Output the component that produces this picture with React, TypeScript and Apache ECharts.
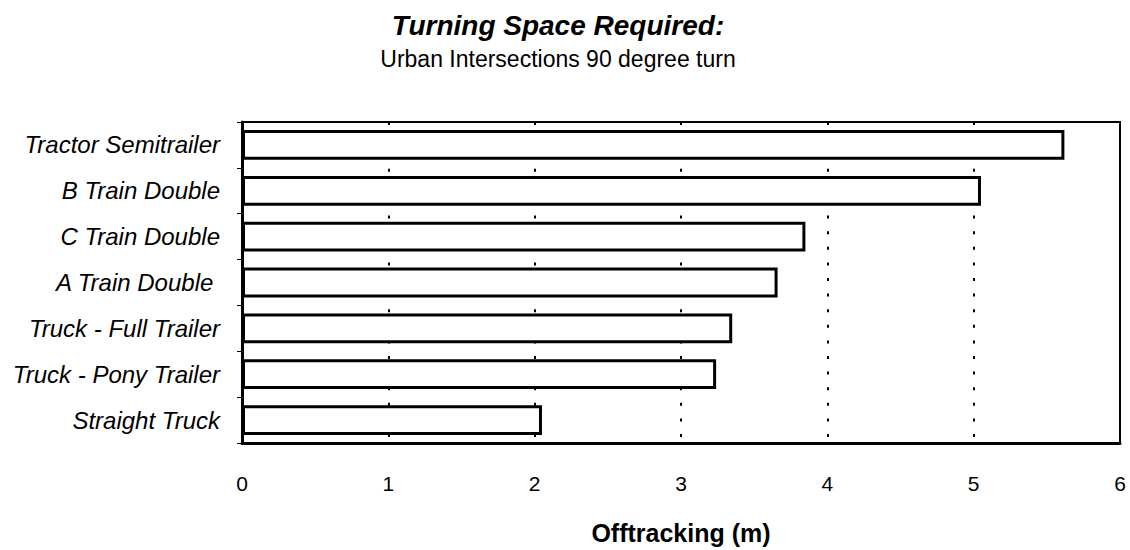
import React, { useEffect, useRef } from "react";
import * as echarts from "echarts";

const categories = [
  "Straight Truck",
  "Truck - Pony Trailer",
  "Truck - Full Trailer",
  "A Train Double ",
  "C Train Double",
  "B Train Double",
  "Tractor Semitrailer",
];
const offtracking = [2.05, 3.24, 3.35, 3.66, 3.85, 5.05, 5.62];
const xTicks = [0, 1, 2, 3, 4, 5, 6];

const titleText = "Turning Space Required:";
const subtitleText = "Urban Intersections 90 degree turn";
const xAxisTitle = "Offtracking (m)";

export default function App() {
  const ref = useRef<HTMLDivElement>(null);
  useEffect(() => {
    if (!ref.current) return;
    const chart = echarts.init(ref.current, null, { renderer: "svg" });
    const font = "'Liberation Sans', Arial, sans-serif";
    chart.setOption({
      animation: false,
      backgroundColor: "#ffffff",
      textStyle: { fontFamily: font },
      title: {
        text: titleText,
        subtext: subtitleText,
        left: 553,
        top: 6,
        textAlign: "center",
        itemGap: 8,
        textStyle: {
          fontFamily: font,
          fontSize: 28,
          fontWeight: "bold",
          fontStyle: "italic",
          color: "#000",
        },
        subtextStyle: {
          fontFamily: font,
          fontSize: 23,
          color: "#000",
        },
      },
      grid: {
        left: 242,
        top: 122,
        width: 878,
        height: 323,
        show: true,
        borderColor: "#000",
        borderWidth: 2,
        backgroundColor: "transparent",
      },
      xAxis: {
        type: "value",
        min: xTicks[0],
        max: xTicks[xTicks.length - 1],
        interval: 1,
        name: xAxisTitle,
        nameLocation: "middle",
        nameGap: 77,
        nameTextStyle: {
          fontFamily: font,
          fontSize: 25,
          fontWeight: "bold",
          color: "#000",
        },
        axisLine: { show: true, lineStyle: { color: "#000", width: 3 } },
        axisTick: { show: false },
        axisLabel: {
          fontFamily: font,
          fontSize: 21,
          color: "#000",
          margin: 30,
        },
        splitLine: {
          show: true,
          lineStyle: { color: "#000", width: 2, type: [3, 12.6] },
        },
      },
      yAxis: {
        type: "category",
        data: categories,
        axisLine: { show: true, lineStyle: { color: "#000", width: 3 } },
        axisTick: {
          show: true,
          length: 5,
          lineStyle: { color: "#000", width: 1 },
        },
        axisLabel: {
          fontFamily: font,
          fontSize: 24,
          fontStyle: "italic",
          color: "#000",
          margin: 22,
        },
        splitLine: { show: false },
      },
      series: [
        {
          type: "bar",
          data: offtracking,
          barCategoryGap: "35%",
          itemStyle: {
            color: "#ffffff",
            borderColor: "#000",
            borderWidth: 3,
          },
          z: 3,
        },
      ],
    });
    return () => chart.dispose();
  }, []);
  return (
    <div
      ref={ref}
      style={{ position: "fixed", left: 0, top: 0, width: 1130, height: 550 }}
    />
  );
}
